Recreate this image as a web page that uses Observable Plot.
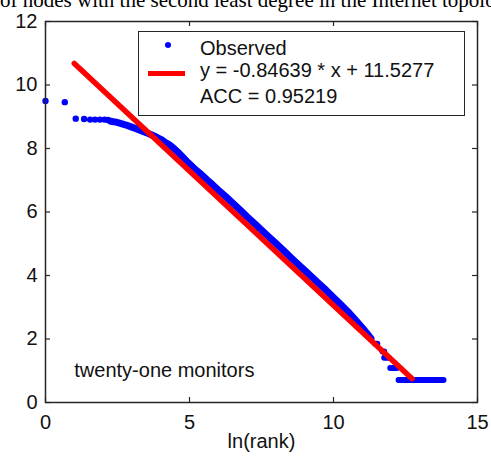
<!DOCTYPE html>
<html><head><meta charset="utf-8">
<script src="https://cdn.jsdelivr.net/npm/d3@7"></script>
<script src="https://cdn.jsdelivr.net/npm/@observablehq/plot@0.6"></script>
<style>
body{margin:0;background:#fff;}
#wrap{position:relative;width:491px;height:459px;overflow:hidden;background:#fff;font-family:"Liberation Sans",Arial,sans-serif;color:#111;}
#chart{position:absolute;left:0;top:0;}
#title{position:absolute;left:0;top:-10px;font-family:"Liberation Serif","Times New Roman",serif;font-size:21px;line-height:21px;white-space:nowrap;color:#000;}
#legend{position:absolute;left:138px;top:31px;width:327px;height:85px;box-sizing:border-box;border:1.5px solid #262626;background:#fff;}
.lt{position:absolute;left:200px;font-size:20px;line-height:20px;white-space:nowrap;}
#sw-dot{position:absolute;left:165px;top:42px;width:6px;height:6px;border-radius:50%;background:#0000ff;}
#sw-line{position:absolute;left:148px;top:71px;width:37px;height:5px;background:#ff0000;}
</style></head>
<body>
<div id="wrap">
  <div id="chart"></div>
  <div id="title"></div>
  <div id="legend"></div>
  <div id="sw-dot"></div>
  <div id="sw-line"></div>
  <div class="lt" id="l1" style="top:37.5px"></div>
  <div class="lt" id="l2" style="top:60px"></div>
  <div class="lt" id="l3" style="top:86px"></div>
</div>
<script>
// ---- data ----
const titleText = "of nodes with the second least degree in the Internet topology";
const xLabel = "ln(rank)";
const xTicks = [0, 5, 10, 15];
const yTicks = [0, 2, 4, 6, 8, 10, 12];
const legendLabels = ["Observed", "y = -0.84639 * x + 11.5277", "ACC = 0.95219"];
const noteText = "twenty-one monitors";
const noteX = 1, noteY = 1;

// first (sparse) ranks
const sparseX = [0, 0.67, 1.05, 1.34, 1.55, 1.72, 1.89, 2.05, 2.17];
const sparseY = [9.50, 9.46, 8.94, 8.93, 8.91, 8.91, 8.91, 8.91, 8.90];

// dense part of the observed curve
const denseX = [2.26, 2.45, 2.60, 2.80, 2.95, 3.15, 3.30, 3.50, 3.65, 3.85, 4.00, 4.15, 4.30, 4.45, 4.60, 4.75, 4.90, 5.05, 5.20, 5.40, 5.60, 5.80, 6.00, 6.25, 6.50, 6.75, 7.00, 7.25, 7.50, 7.75, 8.00, 8.25, 8.50, 8.75, 9.00, 9.25, 9.50, 9.75, 10.00, 10.25, 10.50, 10.75, 11.00, 11.15, 11.30];
const denseY = [8.86, 8.83, 8.79, 8.74, 8.69, 8.62, 8.57, 8.50, 8.44, 8.36, 8.29, 8.20, 8.12, 8.01, 7.88, 7.74, 7.60, 7.47, 7.34, 7.19, 7.02, 6.86, 6.69, 6.49, 6.28, 6.07, 5.85, 5.64, 5.43, 5.22, 5.01, 4.80, 4.58, 4.37, 4.16, 3.95, 3.74, 3.53, 3.31, 3.09, 2.86, 2.61, 2.35, 2.19, 2.02];

// tail: horizontal steps of equal degree
const tailY  = [1.85, 1.61, 1.41, 1.09, 0.71];
const tailX1 = [11.45, 11.70, 11.76, 11.97, 12.26];
const tailX2 = [11.52, 11.76, 11.92, 12.20, 13.82];

// fitted line end points
const fitX = [1.0, 12.73];
const fitY = [10.68, 0.75];

// ---- tables ----
const sparse = sparseX.map((x, i) => ({x, y: sparseY[i]}));
const dense = denseX.map((x, i) => ({x, y: denseY[i]}));
const tail = tailY.map((y, i) => ({y, x1: tailX1[i], x2: tailX2[i]}));
const fit = fitX.map((x, i) => ({x, y: fitY[i]}));

const W = 491, H = 459, mL = 45, mR = 14, mT = 21, mB = 57;
const pw = W - mL - mR, ph = H - mT - mB;
const BLUE = "#0000ff", RED = "#ff0000", INK = "#262626";

const chart = Plot.plot({
  width: W, height: H,
  marginLeft: mL, marginRight: mR, marginTop: mT, marginBottom: mB,
  style: {fontFamily: "Liberation Sans, Arial, sans-serif", fontSize: "20px", color: "#111", background: "white", overflow: "visible"},
  x: {domain: [0, 15], ticks: xTicks, tickSize: 0, tickPadding: 12, label: null, tickFormat: d => String(d)},
  y: {domain: [0, 12], ticks: yTicks, tickSize: 0, tickPadding: 8, label: null, tickFormat: d => String(d)},
  marks: [
    Plot.line(dense, {x: "x", y: "y", stroke: BLUE, strokeWidth: 7, strokeLinecap: "round", strokeLinejoin: "round"}),
    Plot.dot(sparse, {x: "x", y: "y", r: 3.2, fill: BLUE, stroke: null}),
    Plot.link(tail, {x1: "x1", x2: "x2", y1: "y", y2: "y", stroke: BLUE, strokeWidth: 6, strokeLinecap: "round"}),
    Plot.line(fit, {x: "x", y: "y", stroke: RED, strokeWidth: 5.5}),
    Plot.text([noteText], {x: () => noteX, y: () => noteY, text: d => d, textAnchor: "start", fontSize: 20, fill: "#111"}),
    Plot.text([xLabel], {frameAnchor: "bottom", dy: 45, lineAnchor: "bottom", text: d => d, fontSize: 20, fill: "#111"}),
    Plot.ruleX(xTicks, {x: d => d, insetTop: ph - 5, stroke: INK, strokeWidth: 1.2}),
    Plot.ruleX(xTicks, {x: d => d, insetBottom: ph - 5, stroke: INK, strokeWidth: 1.2}),
    Plot.ruleY(yTicks, {y: d => d, insetRight: pw - 5, stroke: INK, strokeWidth: 1.2}),
    Plot.ruleY(yTicks, {y: d => d, insetLeft: pw - 5, stroke: INK, strokeWidth: 1.2}),
    Plot.frame({stroke: INK, strokeWidth: 1.5})
  ]
});
document.getElementById("chart").appendChild(chart);
document.getElementById("title").textContent = titleText;
document.getElementById("l1").textContent = legendLabels[0];
document.getElementById("l2").textContent = legendLabels[1];
document.getElementById("l3").textContent = legendLabels[2];
</script>
</body></html>
